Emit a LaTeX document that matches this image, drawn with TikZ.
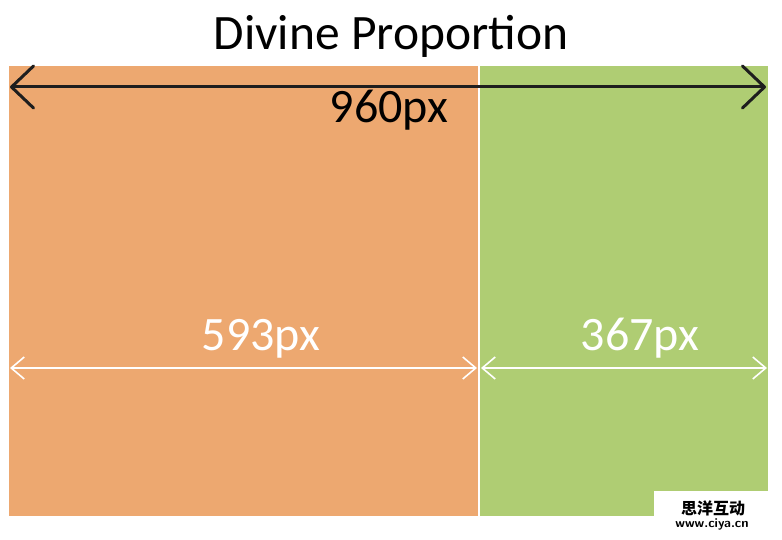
\documentclass[tikz,border=0pt]{standalone}
\usepackage{fontspec}
\setmainfont{Carlito}
\newfontfamily\cjkfont{Noto Sans CJK SC}
\usetikzlibrary{arrows.meta}
\definecolor{orangefill}{RGB}{237,168,112}
\definecolor{greenfill}{RGB}{175,205,115}
\definecolor{darkline}{RGB}{30,30,30}
\tikzset{
  panel/.style={draw=none, inner sep=0pt, minimum height=450pt, anchor=north west},
  bigarrow/.style={draw=darkline, line width=3pt, line cap=round,
     {Straight Barb[length=22pt,width=42pt,line width=3pt,round]}-{Straight Barb[length=22pt,width=42pt,line width=3pt,round]}},
  smallarrow/.style={draw=white, line width=1.6pt,
     {Straight Barb[length=13pt,width=22pt,line width=1.6pt]}-{Straight Barb[length=13pt,width=22pt,line width=1.6pt]}},
  dimlabel/.style={anchor=base, inner sep=0pt, font=\fontsize{48}{52}\selectfont},
}
\begin{document}
\begin{tikzpicture}[x=1pt,y=-1pt]
\useasboundingbox[fill=white] (0,0) rectangle (782,540);
% panels
\node[panel, fill=orangefill, minimum width=469pt] (left) at (9,66) {};
\node[panel, fill=greenfill, minimum width=288pt] (right) at (480,66) {};
% title
\node[anchor=base, inner sep=0pt, font=\fontsize{49.5}{54}\selectfont] (title) at (391,50) {Divine Proportion};
% overall arrow
\coordinate (bl) at (10,87);
\coordinate (br) at (766,87);
\draw[bigarrow] (bl) -- (br);
\node[dimlabel, text=black] (total) at (389,123) {960px};
% part arrows
\coordinate (al) at (10,368);
\coordinate (am) at (477,368);
\coordinate (bm) at (481,368);
\coordinate (ar) at (767,368);
\draw[smallarrow] (al) -- (am);
\draw[smallarrow] (bm) -- (ar);
\node[dimlabel, text=white] (major) at (261,350) {593px};
\node[dimlabel, text=white] (minor) at (640,350) {367px};
% watermark
\node[draw=none, fill=white, anchor=north west, minimum width=128pt, minimum height=49pt, inner sep=0pt] (wm) at (654,491) {};
\node[inner sep=0pt, anchor=base, font=\cjkfont\bfseries\fontsize{16}{16}\selectfont] (wmcn) at (713,514) {思洋互动};
\node[inner sep=0pt, anchor=base, font=\sffamily\bfseries\fontsize{13}{13}\selectfont] (wmurl) at (712,527) {www.ciya.cn};
\end{tikzpicture}
\end{document}
